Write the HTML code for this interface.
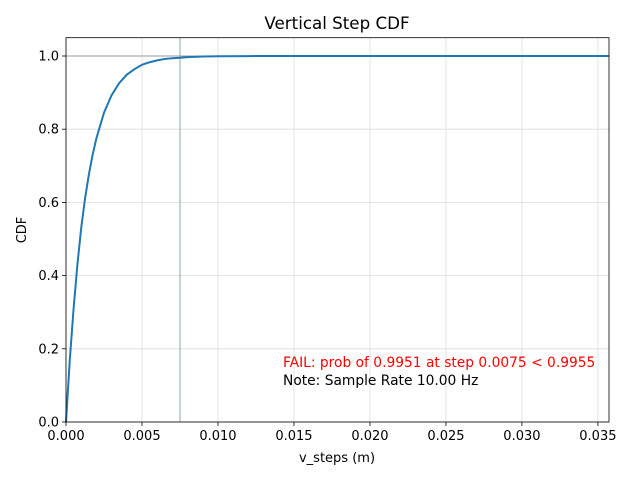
<!DOCTYPE html>
<html><head><meta charset="utf-8"><style>
body{margin:0;background:#fff;}
svg text{font-family:"DejaVu Sans","Liberation Sans",sans-serif;}
</style></head><body>
<svg id="chart" width="640" height="480" xmlns="http://www.w3.org/2000/svg">
<rect width="640" height="480" fill="#fff"/>
<g id="grid"></g><g id="marks"></g><g id="axes"></g>
<text x="337" y="29" font-size="16.7" text-anchor="middle">Vertical Step CDF</text>
<text x="337" y="462" font-size="13" text-anchor="middle">v_steps (m)</text>
<text x="26" y="230" font-size="13" text-anchor="middle" transform="rotate(-90 26 230)">CDF</text>
<text x="283" y="367" font-size="13.8" fill="#ff0000">FAIL: prob of 0.9951 at step 0.0075 &lt; 0.9955</text>
<text x="283" y="385" font-size="13.8" fill="#000">Note: Sample Rate 10.00 Hz</text>
</svg>
<script>
const stepValues=[0,0.00025,0.0005,0.00075,0.001,0.00125,0.0015,0.00175,0.002,0.0025,0.003,0.0035,0.004,0.0045,0.005,0.0055,0.006,0.0065,0.007,0.0075,0.008,0.009,0.01,0.012,0.015,0.02,0.03,0.0357];
const cdfValues=[0,0.17,0.31,0.43,0.53,0.61,0.675,0.73,0.775,0.845,0.893,0.926,0.949,0.964,0.976,0.983,0.988,0.992,0.994,0.9951,0.997,0.9987,0.9994,0.9998,1,1,1,1];
const xTicks=[0,0.005,0.010,0.015,0.020,0.025,0.030,0.035];
const xTickLabels=["0.000","0.005","0.010","0.015","0.020","0.025","0.030","0.035"];
const yTicks=[0,0.2,0.4,0.6,0.8,1.0];
const yTickLabels=["0.0","0.2","0.4","0.6","0.8","1.0"];
const thresholdStep=[0.0075];
const thresholdProb=[1.0];
const L=66,R=609,T=37.7,B=422,xmax=0.03573,ymax=1.05;
const X=v=>L+v/xmax*(R-L), Y=v=>B-v/ymax*(B-T);
const NS="http://www.w3.org/2000/svg";
function mk(t,a,p){const e=document.createElementNS(NS,t);for(const k in a)e.setAttribute(k,a[k]);p.appendChild(e);return e;}
const grid=document.getElementById('grid'),marks=document.getElementById('marks'),axes=document.getElementById('axes');
xTicks.forEach((v,i)=>{
 const g=mk('line',{x1:X(v),x2:X(v),y1:T,y2:B,stroke:'#dcdcdc','stroke-width':0.8},grid);
 
 
 const t=mk('line',{x1:X(v),x2:X(v),y1:B,y2:B+4,stroke:'#000','stroke-width':0.8},axes);
 
 
 const l=mk('text',{x:X(v),y:B+18,'font-size':13,'text-anchor':'middle'},axes);l.textContent=xTickLabels[i];
 
 
});
yTicks.forEach((v,i)=>{
 const g=mk('line',{x1:L,x2:R,y1:Y(v),y2:Y(v),stroke:'#dcdcdc','stroke-width':0.8},grid);
 
 
 const t=mk('line',{x1:L-4,x2:L,y1:Y(v),y2:Y(v),stroke:'#000','stroke-width':0.8},axes);
 
 
 const l=mk('text',{x:L-7,y:Y(v)+4.5,'font-size':13,'text-anchor':'end'},axes);l.textContent=yTickLabels[i];
 
 
});
const vl=mk('line',{x1:X(thresholdStep[0]),x2:X(thresholdStep[0]),y1:T,y2:B,stroke:'#8aa8a8','stroke-width':1},marks);


const hl=mk('line',{x1:L,x2:R,y1:Y(thresholdProb[0]),y2:Y(thresholdProb[0]),stroke:'#999','stroke-width':1},marks);


const cp=mk('path',{d:stepValues.map((v,i)=>(i?'L':'M')+X(v).toFixed(2)+' '+Y(cdfValues[i]).toFixed(2)).join(' '),fill:'none',stroke:'#1f77b4','stroke-width':2},marks);


const fr=mk('rect',{x:L,y:T,width:R-L,height:B-T,fill:'none',stroke:'#000','stroke-width':0.8},axes);


</script>
</body></html>
